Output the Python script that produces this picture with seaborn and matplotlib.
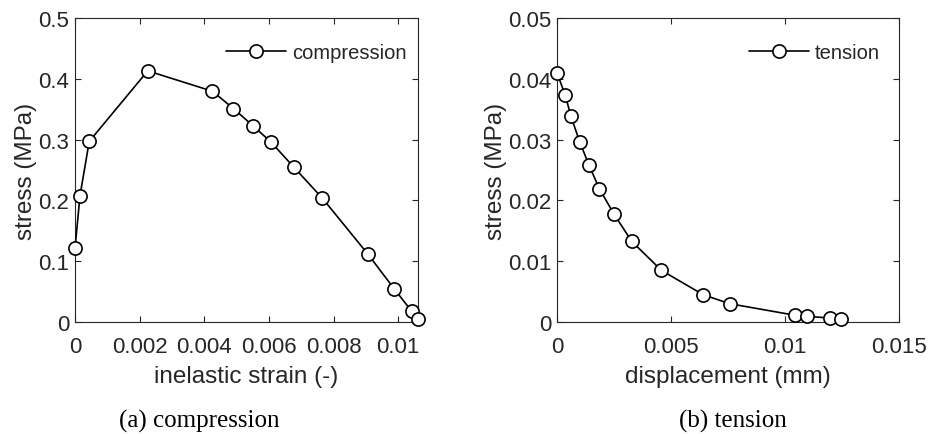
import numpy as np
import pandas as pd
import matplotlib
matplotlib.use("Agg")
import matplotlib.pyplot as plt
import seaborn as sns
from matplotlib.ticker import FuncFormatter

# ==========================================
# DATA
# ==========================================
comp_strain = [0.0, 0.000155, 0.00044, 0.00225, 0.00425, 0.0049, 0.00552,
               0.00606, 0.00677, 0.00765, 0.00905, 0.00987, 0.01041, 0.01061]
comp_stress = [0.1216, 0.208, 0.297, 0.413, 0.3795, 0.351, 0.322,
               0.296, 0.2546, 0.2037, 0.1123, 0.0548, 0.0181, 0.0044]

tens_disp = [0.0, 0.000363, 0.00061, 0.00099, 0.00141, 0.00186, 0.0025, 0.00328,
             0.00458, 0.00641, 0.00757, 0.01045, 0.01095, 0.01196, 0.01244]
tens_stress = [0.04096, 0.0373, 0.03385, 0.02968, 0.02574, 0.0219, 0.01774, 0.01325,
               0.00849, 0.00449, 0.00301, 0.0011, 0.00093, 0.00066, 0.00044]

comp_xticks = [0, 0.002, 0.004, 0.006, 0.008, 0.01]
comp_yticks = [0, 0.1, 0.2, 0.3, 0.4, 0.5]
tens_xticks = [0, 0.005, 0.01, 0.015]
tens_yticks = [0, 0.01, 0.02, 0.03, 0.04, 0.05]

TXT = '#262626'

sns.set_style("ticks")
plt.rcParams['font.family'] = ['Liberation Sans', 'DejaVu Sans']


def draw_panel(ax, x, y, label, xlabel, xlim, ylim, xticks, yticks, leg_anchor):
    df = pd.DataFrame({'x': x, 'y': y})
    sns.lineplot(data=df, x='x', y='y', ax=ax, sort=False, estimator=None,
                 color='black', linewidth=1.2, marker='o', markersize=9.5,
                 markerfacecolor='white', markeredgecolor='black',
                 markeredgewidth=1.2, label=label, clip_on=False, zorder=3)
    ax.set_xlim(*xlim)
    ax.set_ylim(*ylim)
    ax.set_xticks(xticks)
    ax.set_yticks(yticks)
    fmt = FuncFormatter(lambda v, p: f"{v:g}")
    ax.xaxis.set_major_formatter(fmt)
    ax.yaxis.set_major_formatter(fmt)
    ax.tick_params(direction='in', length=4, width=0.8, top=True, right=True,
                   labelsize=16, colors=TXT)
    ax.tick_params(axis='x', pad=10)
    ax.tick_params(axis='y', pad=4)
    for s in ax.spines.values():
        s.set_visible(True)
        s.set_color(TXT)
        s.set_linewidth(0.8)
    ax.set_xlabel(xlabel, fontsize=17.5, color=TXT, labelpad=6)
    ax.set_ylabel('stress (MPa)', fontsize=17.5, color=TXT, labelpad=1)
    ax.legend(loc='upper right', bbox_to_anchor=leg_anchor, frameon=False,
              fontsize=14.5, handlelength=3.0, handletextpad=0.3,
              borderaxespad=0)


fig = plt.figure(figsize=(9.33, 4.35), dpi=100)
ax1 = fig.add_axes([0.0804, 0.2575, 0.3676, 0.6989])
ax2 = fig.add_axes([0.597, 0.2575, 0.3666, 0.6989])

draw_panel(ax1, comp_strain, comp_stress, 'compression', 'inelastic strain (-)',
           (0, max(comp_strain)), (0, 0.5), comp_xticks, comp_yticks, (0.991, 0.944))
draw_panel(ax2, tens_disp, tens_stress, 'tension', 'displacement (mm)',
           (0, 0.015), (0, 0.05), tens_xticks, tens_yticks, (0.968, 0.944))

fig.text(199 / 933, 2 / 435, '(a) compression', ha='center', va='bottom',
         fontsize=18, family=['Liberation Serif', 'DejaVu Serif'], color='black')
fig.text(733 / 933, 2 / 435, '(b) tension', ha='center', va='bottom',
         fontsize=18, family=['Liberation Serif', 'DejaVu Serif'], color='black')

fig.savefig('out.png', dpi=100)
